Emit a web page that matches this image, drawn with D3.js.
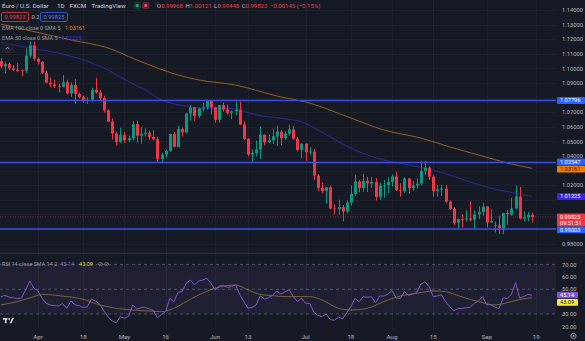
<!DOCTYPE html>
<html><head><meta charset="utf-8">
<script src="https://cdn.jsdelivr.net/npm/d3@7"></script>
<style>
html,body{margin:0;padding:0;background:#161a25;overflow:hidden}
svg{display:block}
text{font-family:Roboto,"Liberation Sans",sans-serif}
</style></head><body>
<svg id="c" width="585" height="341"></svg>
<script>
// ---------- DATA ----------
// [date, open, high, low, close]
const candles = [
["2022-03-21",1.1050,1.1070,1.1000,1.1014],["2022-03-22",1.1014,1.1045,1.0964,1.1030],["2022-03-23",1.1030,1.1040,1.0990,1.1000],
["2022-03-24",1.1000,1.1022,1.0980,1.0990],["2022-03-25",1.0992,1.1035,1.0975,1.0982],["2022-03-28",1.0988,1.0992,1.0945,1.0983],
["2022-03-29",1.0983,1.1137,1.0968,1.1087],["2022-03-30",1.1087,1.1185,1.1070,1.1158],["2022-03-31",1.1158,1.1183,1.1052,1.1066],
["2022-04-01",1.1066,1.1076,1.1027,1.1045],["2022-04-04",1.1045,1.1050,1.0962,1.0970],["2022-04-05",1.0970,1.0986,1.0898,1.0903],
["2022-04-06",1.0903,1.0937,1.0872,1.0890],["2022-04-07",1.0890,1.0922,1.0866,1.0878],["2022-04-08",1.0878,1.0893,1.0836,1.0875],
["2022-04-11",1.0875,1.0954,1.0870,1.0905],["2022-04-12",1.0905,1.0922,1.0820,1.0828],["2022-04-13",1.0828,1.0905,1.0805,1.0887],
["2022-04-14",1.0887,1.0925,1.0758,1.0825],["2022-04-15",1.0825,1.0836,1.0796,1.0805],["2022-04-18",1.0805,1.0814,1.0764,1.0778],
["2022-04-19",1.0778,1.0802,1.0757,1.0786],["2022-04-20",1.0786,1.0867,1.0767,1.0853],["2022-04-21",1.0853,1.0936,1.0826,1.0836],
["2022-04-22",1.0836,1.0852,1.0781,1.0796],["2022-04-25",1.0796,1.0812,1.0697,1.0712],["2022-04-26",1.0712,1.0720,1.0632,1.0636],
["2022-04-27",1.0636,1.0656,1.0514,1.0554],["2022-04-28",1.0554,1.0566,1.0471,1.0497],["2022-04-29",1.0497,1.0593,1.0490,1.0543],
["2022-05-02",1.0543,1.0566,1.0491,1.0508],["2022-05-03",1.0508,1.0540,1.0494,1.0521],["2022-05-04",1.0521,1.0641,1.0505,1.0619],
["2022-05-05",1.0619,1.0642,1.0493,1.0540],["2022-05-06",1.0540,1.0599,1.0483,1.0552],["2022-05-09",1.0552,1.0592,1.0534,1.0560],
["2022-05-10",1.0560,1.0575,1.0510,1.0530],["2022-05-11",1.0530,1.0577,1.0507,1.0515],["2022-05-12",1.0515,1.0532,1.0354,1.0380],
["2022-05-13",1.0380,1.0423,1.0350,1.0410],["2022-05-16",1.0410,1.0443,1.0389,1.0434],["2022-05-17",1.0434,1.0555,1.0429,1.0550],
["2022-05-18",1.0550,1.0565,1.0460,1.0462],["2022-05-19",1.0462,1.0607,1.0459,1.0585],["2022-05-20",1.0585,1.0595,1.0532,1.0562],
["2022-05-23",1.0562,1.0697,1.0555,1.0690],["2022-05-24",1.0690,1.0748,1.0642,1.0733],["2022-05-25",1.0733,1.0737,1.0642,1.0675],
["2022-05-26",1.0675,1.0732,1.0660,1.0725],["2022-05-27",1.0725,1.0765,1.0706,1.0733],["2022-05-30",1.0733,1.0787,1.0718,1.0778],
["2022-05-31",1.0778,1.0786,1.0683,1.0733],["2022-06-01",1.0733,1.0738,1.0627,1.0648],["2022-06-02",1.0648,1.0750,1.0628,1.0749],
["2022-06-03",1.0749,1.0765,1.0703,1.0718],["2022-06-06",1.0718,1.0752,1.0687,1.0696],["2022-06-07",1.0696,1.0710,1.0652,1.0706],
["2022-06-08",1.0706,1.0773,1.0680,1.0716],["2022-06-09",1.0716,1.0774,1.0612,1.0616],["2022-06-10",1.0616,1.0637,1.0508,1.0518],
["2022-06-13",1.0518,1.0522,1.0398,1.0410],["2022-06-14",1.0410,1.0447,1.0359,1.0420],["2022-06-15",1.0420,1.0506,1.0398,1.0445],
["2022-06-16",1.0445,1.0601,1.0381,1.0545],["2022-06-17",1.0545,1.0549,1.0473,1.0494],["2022-06-20",1.0494,1.0547,1.0486,1.0507],
["2022-06-21",1.0507,1.0582,1.0482,1.0535],["2022-06-22",1.0535,1.0606,1.0469,1.0567],["2022-06-23",1.0567,1.0578,1.0471,1.0522],
["2022-06-24",1.0522,1.0570,1.0511,1.0554],["2022-06-27",1.0554,1.0615,1.0540,1.0583],["2022-06-28",1.0583,1.0606,1.0510,1.0518],
["2022-06-29",1.0518,1.0532,1.0432,1.0442],["2022-06-30",1.0442,1.0486,1.0383,1.0484],["2022-07-01",1.0484,1.0486,1.0367,1.0426],
["2022-07-04",1.0426,1.0462,1.0408,1.0430],["2022-07-05",1.0430,1.0446,1.0236,1.0266],["2022-07-06",1.0266,1.0276,1.0161,1.0182],
["2022-07-07",1.0182,1.0220,1.0143,1.0160],["2022-07-08",1.0160,1.0188,1.0073,1.0185],["2022-07-11",1.0185,1.0196,1.0034,1.0040],
["2022-07-12",1.0040,1.0070,0.9999,1.0035],["2022-07-13",1.0035,1.0101,0.9998,1.0050],["2022-07-14",1.0050,1.0065,0.9952,1.0020],
["2022-07-15",1.0020,1.0096,1.0007,1.0082],["2022-07-18",1.0082,1.0200,1.0060,1.0140],["2022-07-19",1.0140,1.0271,1.0127,1.0225],
["2022-07-20",1.0225,1.0236,1.0152,1.0180],["2022-07-21",1.0180,1.0278,1.0154,1.0230],["2022-07-22",1.0230,1.0256,1.0153,1.0212],
["2022-07-25",1.0212,1.0258,1.0181,1.0222],["2022-07-26",1.0222,1.0248,1.0096,1.0120],["2022-07-27",1.0120,1.0217,1.0100,1.0198],
["2022-07-28",1.0198,1.0235,1.0113,1.0200],["2022-07-29",1.0200,1.0254,1.0146,1.0222],["2022-08-01",1.0222,1.0274,1.0190,1.0260],
["2022-08-02",1.0260,1.0293,1.0160,1.0165],["2022-08-03",1.0165,1.0214,1.0123,1.0160],["2022-08-04",1.0160,1.0254,1.0145,1.0246],
["2022-08-05",1.0246,1.0250,1.0141,1.0180],["2022-08-08",1.0180,1.0230,1.0160,1.0197],["2022-08-09",1.0197,1.0248,1.0175,1.0211],
["2022-08-10",1.0211,1.0368,1.0200,1.0298],["2022-08-11",1.0298,1.0368,1.0270,1.0320],["2022-08-12",1.0320,1.0328,1.0236,1.0258],
["2022-08-15",1.0258,1.0267,1.0121,1.0160],["2022-08-16",1.0160,1.0202,1.0122,1.0170],["2022-08-17",1.0170,1.0203,1.0124,1.0177],
["2022-08-18",1.0177,1.0202,1.0080,1.0087],["2022-08-19",1.0087,1.0096,1.0030,1.0038],["2022-08-22",1.0038,1.0050,0.9926,0.9942],
["2022-08-23",0.9942,0.9970,0.9901,0.9968],["2022-08-24",0.9968,1.0000,0.9910,0.9966],["2022-08-25",0.9966,1.0029,0.9951,0.9972],
["2022-08-26",0.9972,1.0090,0.9951,0.9963],["2022-08-29",0.9963,1.0028,0.9900,1.0000],["2022-08-30",1.0000,1.0055,0.9968,1.0016],
["2022-08-31",1.0016,1.0080,0.9990,1.0054],["2022-09-01",1.0054,1.0057,0.9910,0.9945],["2022-09-02",0.9945,1.0034,0.9943,0.9953],
["2022-09-05",0.9920,0.9950,0.9877,0.9926],["2022-09-06",0.9926,0.9988,0.9865,0.9903],["2022-09-07",0.9903,1.0012,0.9864,1.0010],
["2022-09-08",1.0010,1.0031,0.9930,0.9999],["2022-09-09",0.9999,1.0113,0.9992,1.0040],["2022-09-12",1.0040,1.0198,1.0037,1.0122],
["2022-09-13",1.0122,1.0188,0.9966,0.9971],["2022-09-14",0.9971,1.0020,0.9955,0.9979],["2022-09-15",0.9979,1.0017,0.9955,0.99968],
["2022-09-16",0.99968,1.00121,0.99448,0.99823]
];
const futureDates = ["2022-09-19"];

const ema50 = [["2022-03-21",1.1181],["2022-03-28",1.1150],["2022-04-04",1.1126],["2022-04-08",1.1105],["2022-04-18",1.1058],
["2022-04-26",1.0989],["2022-05-03",1.0909],["2022-05-09",1.0852],["2022-05-13",1.0784],["2022-05-20",1.0746],["2022-05-27",1.0727],
["2022-06-07",1.0725],["2022-06-15",1.0681],["2022-06-27",1.0651],["2022-06-30",1.0635],["2022-07-06",1.0578],["2022-07-13",1.0498],
["2022-07-19",1.0441],["2022-07-28",1.0373],["2022-08-05",1.0338],["2022-08-15",1.0304],["2022-08-19",1.0270],["2022-08-29",1.0213],
["2022-09-02",1.0179],["2022-09-08",1.0156],["2022-09-16",1.01225]];

const ema100 = [["2022-03-21",1.1304],["2022-04-13",1.1195],["2022-04-26",1.1140],["2022-05-05",1.1058],["2022-05-19",1.0955],
["2022-05-26",1.0921],["2022-06-08",1.0886],["2022-06-23",1.0804],["2022-07-01",1.0770],["2022-07-18",1.0660],["2022-07-28",1.0578],
["2022-08-10",1.0523],["2022-08-19",1.0462],["2022-08-30",1.0407],["2022-09-08",1.0352],["2022-09-16",1.03161]];

// RSI 14, one value per candle
const rsiValues = [44,45,43.5,43,42.5,43,49.5,56.6,50.7,
48.5,42.6,38.6,37.3,36.7,36.5,38.4,34.6,40.5,37.3,36.7,35.1,35.9,42.1,40.5,37.8,32.4,27.8,24.3,23,27.8,
26.5,28.1,37.3,34,35.1,35.4,34,33,27,29.7,31.9,42.6,39.9,47.5,48,54.7,57.4,53.4,56.6,57.4,58.8,54.7,
49.4,52.6,52.9,51.5,52.2,53.4,45.8,39.9,34.6,35.4,37.3,44.7,42.1,43.1,45.3,48.5,46.1,48,49.4,44,40,42.7,
38.6,38.5,31.5,28.8,28,30,25.5,25,27.5,26,31,36,42.5,40,44,43.5,44,39,44.5,44.5,46,
49,43,42.5,48,45,46,47.5,54,56,52,44,44.5,45.5,40,36,32.5,34.5,34.5,35,35.5,38.6,40.5,44,
37.3,37.5,35.5,34.5,43,42.5,46,55.3,43,44,45.8,45.14];

const rsiSma = [["2022-03-21",37.3],["2022-03-25",40],["2022-03-31",44],["2022-04-04",45.8],["2022-04-12",44],["2022-04-15",42.7],
["2022-04-22",37.3],["2022-04-28",34.6],["2022-05-04",33.2],["2022-05-10",32.4],["2022-05-13",31.9],["2022-05-18",34.6],
["2022-05-23",40],["2022-05-26",45.3],["2022-06-01",50.7],["2022-06-06",52.9],["2022-06-08",53.4],["2022-06-13",49.4],
["2022-06-16",45.8],["2022-06-21",44.8],["2022-06-24",44],["2022-07-04",44],["2022-07-07",41.3],["2022-07-13",34.6],
["2022-07-18",33.2],["2022-07-22",34.6],["2022-07-28",40],["2022-08-03",44.5],["2022-08-09",46.7],["2022-08-15",48.6],
["2022-08-18",48],["2022-08-23",44.8],["2022-08-30",40],["2022-09-05",37.3],["2022-09-09",40],["2022-09-14",42.3],["2022-09-16",43.09]];

const levels = [1.07796, 1.03547, 0.99003];
const lastPrice = 0.99823;
const priceTicks = [1.14,1.13,1.12,1.11,1.10,1.09,1.08,1.07,1.06,1.05,1.04,1.03,1.02,1.01,1.00,0.99,0.98];
const rsiTicks = [70,60,50,40,30,20];
const rsiBandLines = [70,50,30];
const timeTicks = [["2022-04-01","Apr"],["2022-04-18","18"],["2022-05-02","May"],["2022-05-16","16"],["2022-06-01","Jun"],
["2022-06-13","13"],["2022-07-01","Jul"],["2022-07-18","18"],["2022-08-01","Aug"],["2022-08-15","15"],["2022-09-01","Sep"],["2022-09-19","19"]];

// ---------- DRAW ----------
const svg = d3.select("#c");
const W = 585, H = 341, plotR = 556;
const UP = "#089981", DN = "#f23645";
const TXT = "#b2b5be";

const dates = candles.map(d => d[0]).concat(futureDates);
const x = d3.scaleBand().domain(dates).range([-1.1, 538.2]).paddingInner(0.28).paddingOuter(0.14);
const cx = d => x(d) + x.bandwidth() / 2;
const y = d3.scaleLinear().domain([0.98, 1.14]).range([243.6, 10]);
const yr = d3.scaleLinear().domain([20, 70]).range([326.4, 264.4]);

svg.append("rect").attr("width", W).attr("height", H).attr("fill", "#161a25");

const defs = svg.append("defs");
defs.append("clipPath").attr("id", "cm").append("rect").attr("x", 0).attr("y", 0).attr("width", plotR).attr("height", 253);
defs.append("clipPath").attr("id", "cr").append("rect").attr("x", 0).attr("y", 254).attr("width", plotR).attr("height", 76);

// grid
const grid = svg.append("g").attr("stroke", "#1d212d").attr("stroke-width", 1);
grid.selectAll(".hg").data(priceTicks).join("line")
  .attr("x1", 0).attr("x2", plotR).attr("y1", d => Math.round(y(d)) + 0.5).attr("y2", d => Math.round(y(d)) + 0.5);
grid.selectAll(".vg").data(timeTicks).join("line")
  .attr("y1", 0).attr("y2", 330).attr("x1", d => Math.round(cx(d[0])) + 0.5).attr("x2", d => Math.round(cx(d[0])) + 0.5);

// pane separator
svg.append("line").attr("x1", 0).attr("x2", W).attr("y1", 253.5).attr("y2", 253.5).attr("stroke", "#2a2e39");

const main = svg.append("g").attr("clip-path", "url(#cm)");

// EMA lines
const lineP = d3.line().x(d => cx(d[0])).y(d => y(d[1])).curve(d3.curveMonotoneX);
main.append("path").datum(ema100).attr("d", lineP).attr("fill", "none").attr("stroke", "#b8701f").attr("stroke-opacity", 0.8).attr("stroke-width", 1);
main.append("path").datum(ema50).attr("d", lineP).attr("fill", "none").attr("stroke", "#2c2cb0").attr("stroke-opacity", 0.85).attr("stroke-width", 1);

// candles
const cg = main.append("g");
cg.selectAll(".w").data(candles).join("line")
  .attr("x1", d => Math.round(cx(d[0])) + 0.5).attr("x2", d => Math.round(cx(d[0])) + 0.5)
  .attr("y1", d => y(d[2])).attr("y2", d => y(d[3]))
  .attr("stroke", d => d[4] >= d[1] ? UP : DN).attr("stroke-width", 1);
cg.selectAll(".b").data(candles).join("rect")
  .attr("x", d => Math.round(cx(d[0])) + 0.5 - 1.5).attr("width", 3)
  .attr("y", d => y(Math.max(d[1], d[4])))
  .attr("height", d => Math.max(0.8, Math.abs(y(d[1]) - y(d[4]))))
  .attr("fill", d => d[4] >= d[1] ? UP : DN);

// horizontal levels
main.selectAll(".lv").data(levels).join("line")
  .attr("x1", 0).attr("x2", plotR).attr("y1", d => y(d)).attr("y2", d => y(d))
  .attr("stroke", "#3b4fe4").attr("stroke-width", 1.5);

// last price line
main.append("line").attr("x1", 0).attr("x2", plotR).attr("y1", y(lastPrice)).attr("y2", y(lastPrice))
  .attr("stroke", DN).attr("stroke-opacity", 0.5).attr("stroke-dasharray", "1,1.5");

// ---------- RSI pane ----------
const rp = svg.append("g").attr("clip-path", "url(#cr)");
rp.append("rect").attr("x", 0).attr("width", plotR).attr("y", yr(70)).attr("height", yr(30) - yr(70))
  .attr("fill", "#7e57c2").attr("fill-opacity", 0.1);
rp.selectAll(".bl").data(rsiBandLines).join("line")
  .attr("x1", 0).attr("x2", plotR).attr("y1", d => yr(d)).attr("y2", d => yr(d))
  .attr("stroke", "#787b86").attr("stroke-opacity", 0.55).attr("stroke-dasharray", "3,3");
const rsiPts = candles.map((d, i) => [d[0], rsiValues[i]]);
rp.append("path").datum(rsiSma).attr("d", d3.line().x(d => cx(d[0])).y(d => yr(d[1])).curve(d3.curveMonotoneX)).attr("fill", "none")
  .attr("stroke", "#a8983a").attr("stroke-opacity", 0.6).attr("stroke-width", 1);
rp.append("path").datum(rsiPts).attr("d", d3.line().x(d => cx(d[0])).y(d => yr(d[1]))).attr("fill", "none")
  .attr("stroke", "#7e57c2").attr("stroke-width", 1);

// ---------- Axis boxes (computed first to hide covered tick labels) ----------
const boxes = [
  {yc: y(levels[0]), h: 7, lines: [levels[0].toFixed(5)], bg: "#2962ff", fg: "#ffffff", w: 28},
  {yc: y(levels[1]) - 0.6, h: 7, lines: [levels[1].toFixed(5)], bg: "#2962ff", fg: "#ffffff", w: 28},
  {yc: y(ema100[ema100.length - 1][1]) + 0.8, h: 6.8, lines: [ema100[ema100.length - 1][1].toFixed(5)], bg: "#f57c00", fg: "#131722", w: 28},
  {yc: y(ema50[ema50.length - 1][1]), h: 7, lines: [ema50[ema50.length - 1][1].toFixed(5)], bg: "#3a22e0", fg: "#ffffff", w: 28},
  {yc: y(lastPrice) + 3, h: 13, lines: [lastPrice.toFixed(5), "09:51:51"], bg: "#f23645", fg: "#ffffff", w: 28},
  {yc: y(levels[2]) + 0.9, h: 6.6, lines: [levels[2].toFixed(5)], bg: "#2962ff", fg: "#ffffff", w: 28},
  {yc: yr(rsiValues[rsiValues.length - 1]) - 0.2, h: 6.6, lines: [rsiValues[rsiValues.length - 1].toFixed(2)], bg: "#7e57c2", fg: "#ffffff", w: 21},
  {yc: yr(rsiSma[rsiSma.length - 1][1]) + 4.6, h: 6.6, lines: [rsiSma[rsiSma.length - 1][1].toFixed(2)], bg: "#ffeb3b", fg: "#131722", w: 21}
];
const covered = yy => boxes.some(b => (yy + 2) > (b.yc - b.h / 2) && (yy - 2.6) < (b.yc + b.h / 2));

const ax = svg.append("g").attr("font-size", 5.8).attr("fill", TXT);
ax.selectAll(".pt").data(priceTicks.filter(d => !covered(y(d)))).join("text")
  .attr("x", 562).attr("y", d => y(d) + 2.1).text(d => d.toFixed(5));
ax.selectAll(".rt").data(rsiTicks.filter(d => !covered(yr(d)))).join("text")
  .attr("x", 562).attr("y", d => yr(d) + 2.1).text(d => d.toFixed(2));
svg.append("g").attr("font-size", 6.2).attr("fill", TXT).attr("text-anchor", "middle")
  .selectAll("text").data(timeTicks).join("text")
  .attr("x", d => cx(d[0])).attr("y", 338.5).text(d => d[1]);

boxes.forEach(b => {
  svg.append("rect").attr("x", 557).attr("y", b.yc - b.h / 2).attr("width", b.w).attr("height", b.h).attr("fill", b.bg).attr("rx", 1);
  b.lines.forEach((t, k) => svg.append("text").attr("x", 560).attr("y", b.yc - b.h / 2 + 5.3 + k * 6)
    .attr("font-size", 5.6).attr("fill", b.fg).text(t));
});

// ---------- Header ----------
const hd = svg.append("g").attr("font-size", 6.2);
hd.append("text").attr("x", 2).attr("y", 8).attr("fill", "#d1d4dc").text("Euro / U.S. Dollar");
hd.append("text").attr("x", 57).attr("y", 8).attr("fill", "#d1d4dc").text("1D");
hd.append("text").attr("x", 69.5).attr("y", 8).attr("fill", "#d1d4dc").text("FXCM");
hd.append("text").attr("x", 91.5).attr("y", 8).attr("fill", "#d1d4dc").text("TradingView");
hd.append("rect").attr("x", 133.5).attr("y", 2).attr("width", 7.5).attr("height", 7).attr("rx", 2).attr("fill", "#15342f");
hd.append("circle").attr("cx", 137.2).attr("cy", 5.5).attr("r", 1.6).attr("fill", "#22ab94");
hd.append("rect").attr("x", 142).attr("y", 2).attr("width", 7.5).attr("height", 7).attr("rx", 2).attr("fill", "#5b2233");
hd.append("circle").attr("cx", 145.7).attr("cy", 5.5).attr("r", 1.6).attr("fill", "#f7525f");
const last = candles[candles.length - 1];
const ohlc = hd.append("text").attr("x", 157).attr("y", 8).attr("font-size", 6);
[["O", last[1]], ["H", last[2]], ["L", last[3]], ["C", last[4]]].forEach(([k, v], i) => {
  ohlc.append("tspan").attr("fill", TXT).attr("dx", i ? 2.5 : 0).text(k);
  ohlc.append("tspan").attr("fill", DN).text(v.toFixed(5));
});
ohlc.append("tspan").attr("fill", DN).attr("dx", 2.5).text("\u22120.00145 (\u22120.15%)");

// row 2
hd.append("rect").attr("x", 1.5).attr("y", 12.5).attr("width", 27).attr("height", 9).attr("rx", 1.5).attr("fill", "none").attr("stroke", DN).attr("stroke-width", 0.8);
hd.append("text").attr("x", 15).attr("y", 19.2).attr("font-size", 5.8).attr("text-anchor", "middle").attr("fill", DN).text("0.99823");
hd.append("text").attr("x", 31.5).attr("y", 19.2).attr("font-size", 5.8).attr("fill", TXT).text("0.2");
hd.append("rect").attr("x", 40.5).attr("y", 12.5).attr("width", 27).attr("height", 9).attr("rx", 1.5).attr("fill", "none").attr("stroke", "#2962ff").attr("stroke-width", 0.8);
hd.append("text").attr("x", 54).attr("y", 19.2).attr("font-size", 5.8).attr("text-anchor", "middle").attr("fill", "#5b7cff").text("0.99825");

// legends with value placed after measured label
function legend(g, xx, yy, label, value, color, minX) {
  const t = g.append("text").attr("x", xx).attr("y", yy).attr("font-size", 5.5).attr("fill", "#9598a1").text(label);
  const end = xx + t.node().getComputedTextLength();
  return g.append("text").attr("x", Math.max(minX, end + 3)).attr("y", yy).attr("font-size", 5.5).attr("fill", color).text(value);
}
legend(hd, 2, 30, "EMA 100 close 0 SMA 5", ema100[ema100.length - 1][1].toFixed(5), "#f08a1c", 65);
legend(hd, 2, 40, "EMA 50 close 0 SMA 5", ema50[ema50.length - 1][1].toFixed(5), "#4b33f0", 61.5);
hd.append("rect").attr("x", 2).attr("y", 43.5).attr("width", 11).attr("height", 9).attr("rx", 2).attr("fill", "#1c202b").attr("stroke", "#2a2e39").attr("stroke-width", 0.6);
hd.append("path").attr("d", "M5.6,49.2 L7.5,47.2 L9.4,49.2").attr("fill", "none").attr("stroke", TXT).attr("stroke-width", 0.8);

// RSI legend
const rh = svg.append("g");
const rv = legend(rh, 2, 265.5, "RSI 14 close SMA 14 2", rsiValues[rsiValues.length - 1].toFixed(2), "#8f66dc", 59.5);
const rvEnd = +rv.attr("x") + rv.node().getComputedTextLength();
const sv = rh.append("text").attr("x", Math.max(78, rvEnd + 5)).attr("y", 265.5).attr("font-size", 5.5).attr("fill", "#e8cf2a")
  .text(rsiSma[rsiSma.length - 1][1].toFixed(2));
const svEnd = +sv.attr("x") + sv.node().getComputedTextLength();
rh.append("text").attr("x", Math.max(95, svEnd + 5)).attr("y", 265.5).attr("font-size", 5.5).attr("fill", "#9598a1").text("\u2298 \u2298");

// TradingView logo
const lg = svg.append("g").attr("fill", "#d1d4dc");
lg.append("rect").attr("x", 3).attr("y", 318).attr("width", 4.5).attr("height", 1.7);
lg.append("rect").attr("x", 4.9).attr("y", 318).attr("width", 1.7).attr("height", 5.2);
lg.append("circle").attr("cx", 9.2).attr("cy", 319).attr("r", 0.9);
lg.append("path").attr("d", "M9.6,323.2 L12.2,318 L14,318 L11.4,323.2 Z");

// gear
svg.append("circle").attr("cx", 573.5).attr("cy", 336).attr("r", 2.6).attr("fill", "none").attr("stroke", TXT).attr("stroke-width", 0.8);
svg.append("circle").attr("cx", 573.5).attr("cy", 336).attr("r", 0.9).attr("fill", TXT);
</script>
</body></html>
